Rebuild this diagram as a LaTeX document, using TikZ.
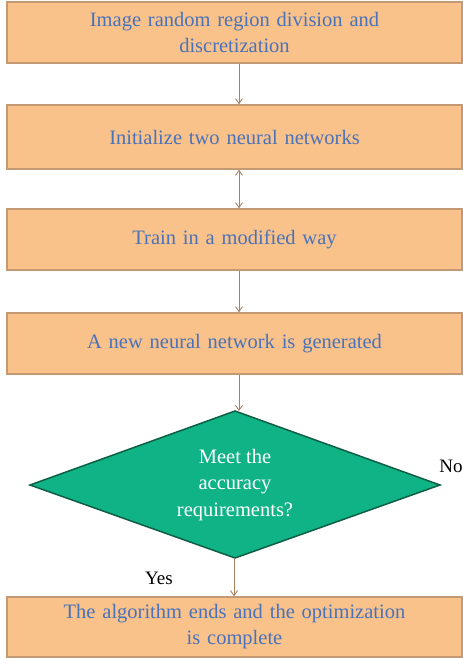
\documentclass[tikz,border=0pt]{standalone}
\usepackage{fontspec}
\setmainfont{Liberation Serif}
\usetikzlibrary{arrows.meta,shapes.geometric}
\definecolor{boxfill}{HTML}{F9C28B}
\definecolor{boxline}{HTML}{C49A74}
\definecolor{txtblue}{HTML}{4A72B8}
\definecolor{dfill}{HTML}{10B386}
\definecolor{dline}{HTML}{0E5E45}
\definecolor{arr}{HTML}{A9825F}
\begin{document}
\begin{tikzpicture}[x=1pt,y=1pt,
  stepbox/.style={draw=boxline,line width=1.3pt,fill=boxfill,minimum width=455pt,text width=420pt,align=center,font=\fontsize{20.5}{26}\selectfont,text=txtblue,inner sep=0pt},
  conn/.style={draw=arr,line width=0.9pt,-{Straight Barb[length=5pt,width=7pt]}},
  lbl/.style={font=\fontsize{19}{23}\selectfont,text=black}]
\useasboundingbox (0,0) rectangle (463,-659);
\node[stepbox,minimum height=61pt] (b1) at (234.5,-32.5) {Image random region division and\\discretization};
\node[stepbox,minimum height=64pt] (b2) at (234.5,-137) {Initialize two neural networks};
\node[stepbox,minimum height=61pt] (b3) at (234.5,-239.5) {Train in a modified way};
\node[stepbox,minimum height=61pt] (b4) at (234.5,-343.5) {A new neural network is generated};
\node[stepbox,minimum height=60pt] (b5) at (234.5,-627) {The algorithm ends and the optimization\\is complete};
\draw[draw=dline,line width=1.5pt,fill=dfill] (235,-411) coordinate (dt) -- (440,-485) coordinate (dr) -- (235,-558) coordinate (db) -- (30,-485) coordinate (dl) -- cycle;
\node[font=\fontsize{20.5}{26.5}\selectfont,text=white,align=center] (dtext) at (235,-485) {Meet the\\accuracy\\requirements?};
\draw[conn] (b1.south -| 239,0) -- (b2.north -| 239,0);
\draw[conn,{Straight Barb[length=5pt,width=7pt]}-{Straight Barb[length=5pt,width=7pt]}] (b2.south -| 239,0) -- (b3.north -| 239,0);
\draw[conn] (b3.south -| 239,0) -- (b4.north -| 239,0);
\draw[conn] (b4.south -| 239,0) -- (dt -| 239,0);
\draw[conn] (db -| 234,0) -- (b5.north -| 234,0);
\node[lbl] (no) at (451,-466) {No};
\node[lbl] (yes) at (159,-578) {Yes};
\end{tikzpicture}
\end{document}
